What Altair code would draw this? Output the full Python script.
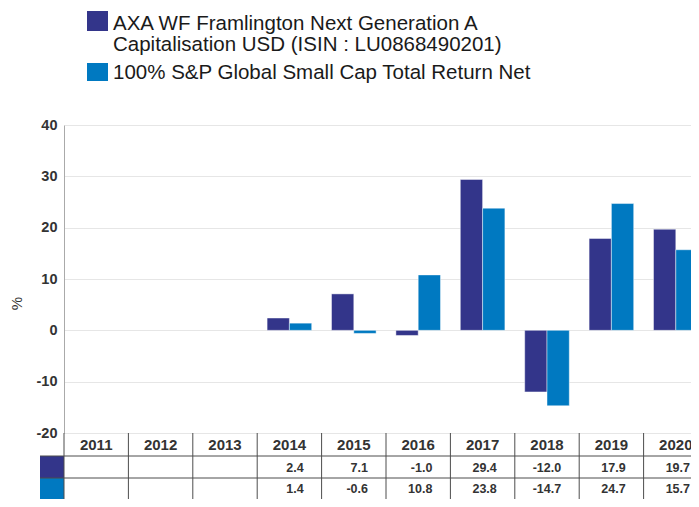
import altair as alt
import pandas as pd

YEARS = [2011, 2012, 2013, 2014, 2015, 2016, 2017, 2018, 2019, 2020]
FUND = [None, None, None, 2.4, 7.1, -1.0, 29.4, -12.0, 17.9, 19.7]
BENCH = [None, None, None, 1.4, -0.6, 10.8, 23.8, -14.7, 24.7, 15.7]
SERIES = [
    "AXA WF Framlington Next Generation A Capitalisation USD (ISIN : LU0868490201)",
    "100% S&P Global Small Cap Total Return Net",
]
LEGEND_LINES = [
    ["AXA WF Framlington Next Generation A", "Capitalisation USD (ISIN : LU0868490201)"],
    ["100% S&P Global Small Cap Total Return Net"],
]
COLORS = ["#33358A", "#0079C1"]
Y_TICKS = [-20, -10, 0, 10, 20, 30, 40]

rows = []
for s, vals in zip(SERIES, [FUND, BENCH]):
    for y, v in zip(YEARS, vals):
        if v is not None:
            rows.append({"year": y, "series": s, "value": v, "label": f"{v:.1f}"})
df = pd.DataFrame(rows)
years_df = pd.DataFrame({"year": YEARS, "ylabel": [str(y) for y in YEARS]})
one = pd.DataFrame({"k": [0]})

FONT = "Liberation Sans"
LINE = "#4d4d4d"

# table geometry (pixels inside the plot area)
T_TOP, R1, R2, T_BOT = 308, 331, 353, 374


def xs(**kw):
    return alt.X("year:O", scale=alt.Scale(domain=YEARS, range=[0, 644], paddingInner=0, paddingOuter=0),
                 axis=None, **kw)


bars = alt.Chart(df).mark_bar(stroke="white", strokeWidth=1, strokeOpacity=0.45).encode(
    x=xs(),
    xOffset=alt.XOffset("series:N", scale=alt.Scale(domain=SERIES, paddingInner=0, paddingOuter=0.444)),
    y=alt.Y("value:Q",
            scale=alt.Scale(domain=[-20, 40], range=[308, 0], nice=False, zero=False),
            axis=alt.Axis(values=Y_TICKS, title="%", grid=True, ticks=False,
                          domainColor="#aaaaaa", gridColor="#e6e6e6",
                          labelFontWeight="bold", labelFontSize=14.5, labelColor="#333333",
                          labelPadding=7, labelExpr="'' + datum.value",
                          titleFontSize=15, titleFontWeight="normal", titleColor="#333333",
                          titleX=-48, titleY=178, titleBaseline="middle", titleAlign="center")),
    color=alt.Color("series:N", scale=alt.Scale(domain=SERIES, range=COLORS), legend=None),
)

# table structure
vlines = alt.Chart(years_df).mark_rule(color=LINE, strokeWidth=1).encode(
    x=xs(bandPosition=0), y=alt.value(T_TOP), y2=alt.value(T_BOT))
hline1 = alt.Chart(one).mark_rule(color=LINE, strokeWidth=1).encode(
    x=alt.value(-24), x2=alt.value(644), y=alt.value(R1))
hline2 = alt.Chart(one).mark_rule(color=LINE, strokeWidth=1).encode(
    x=alt.value(-24), x2=alt.value(644), y=alt.value(R2))
sw1 = alt.Chart(one).mark_rect(color=COLORS[0]).encode(
    x=alt.value(-24), x2=alt.value(0), y=alt.value(R1), y2=alt.value(R2))
sw2 = alt.Chart(one).mark_rect(color=COLORS[1]).encode(
    x=alt.value(-24), x2=alt.value(0), y=alt.value(R2), y2=alt.value(T_BOT))

header = alt.Chart(years_df).mark_text(fontSize=15, fontWeight="bold", color="#333333",
                                        baseline="middle", font=FONT).encode(
    x=xs(), y=alt.value((T_TOP + R1) / 2 + 0.5), text="ylabel:N")
row1 = alt.Chart(df).transform_filter(alt.datum.series == SERIES[0]).mark_text(
    fontSize=12.5, fontWeight="bold", color="#333333", baseline="middle", align="right", dx=-18,
    font=FONT).encode(x=xs(bandPosition=1), y=alt.value((R1 + R2) / 2 + 0.5), text="label:N")
row2 = alt.Chart(df).transform_filter(alt.datum.series == SERIES[1]).mark_text(
    fontSize=12.5, fontWeight="bold", color="#333333", baseline="middle", align="right", dx=-18,
    font=FONT).encode(x=xs(bandPosition=1), y=alt.value((R2 + T_BOT) / 2 + 0.5), text="label:N")

# legend
lg_sw1 = alt.Chart(one).mark_rect(color=COLORS[0]).encode(
    x=alt.value(23), x2=alt.value(44), y=alt.value(-114), y2=alt.value(-94))
lg_sw2 = alt.Chart(one).mark_rect(color=COLORS[1]).encode(
    x=alt.value(23), x2=alt.value(44), y=alt.value(-62), y2=alt.value(-44))
lg_t1 = alt.Chart(one).mark_text(text=LEGEND_LINES[0], align="left", baseline="alphabetic", fontSize=20.5,
                                 lineHeight=21, color="#1a1a1a", font=FONT).encode(
    x=alt.value(49), y=alt.value(-94.6))
lg_t2 = alt.Chart(one).mark_text(text=LEGEND_LINES[1][0], align="left", baseline="alphabetic", fontSize=20.5,
                                 color="#1a1a1a", font=FONT).encode(
    x=alt.value(49), y=alt.value(-45.7))

chart = alt.layer(bars, sw1, sw2, vlines, hline1, hline2, header, row1, row2,
                  lg_sw1, lg_sw2, lg_t1, lg_t2).properties(
    width=627, height=374,
    autosize=alt.AutoSizeParams(type="none"),
    padding={"left": 56, "top": 117, "right": 0, "bottom": 0},
).configure(font=FONT).configure_view(stroke=None)

chart.save("out.html", embed_options={"renderer": "svg", "actions": False})
